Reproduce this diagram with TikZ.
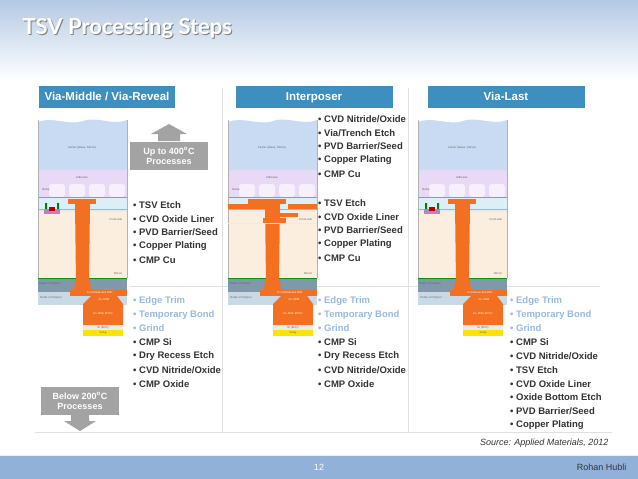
\documentclass[tikz,border=0pt]{standalone}
\usepackage{fontspec}
\setmainfont{Liberation Sans}
\newfontfamily\titlefont{Lato}
\begin{document}
\definecolor{hdr}{HTML}{3D8FC0}
\definecolor{sky}{HTML}{B4C9E2}
\definecolor{carrier}{HTML}{C9DBF2}
\definecolor{adh}{HTML}{E8DAF6}
\definecolor{beol}{HTML}{DDEFF6}
\definecolor{si}{HTML}{FBEEDF}
\definecolor{cu}{HTML}{F36F21}
\definecolor{oxd}{HTML}{7F98AA}
\definecolor{oxl}{HTML}{C9D9E5}
\definecolor{lb}{HTML}{9BB9E0}
\definecolor{dk}{HTML}{333333}
\definecolor{gbox}{HTML}{A3A3A3}
\definecolor{foot}{HTML}{92B1D9}
\begin{tikzpicture}[x=1pt,y=-1pt,
  hd/.style={fill=hdr,minimum width=157pt,minimum height=22pt,text height=8.5pt,text depth=2.5pt,text=white,font=\bfseries\fontsize{11.5}{12}\selectfont,inner sep=0pt},
  bl/.style={anchor=west,font=\bfseries\fontsize{9.5}{10}\selectfont,text=dk,inner sep=0pt},
  bb/.style={bl,text=lb},
  tiny/.style={font=\fontsize{2.8}{3}\selectfont,text=black!60,inner sep=0pt},
  gb/.style={fill=gbox,text=white,font=\bfseries\fontsize{9}{10}\selectfont,align=center,minimum width=78pt,minimum height=28pt,inner sep=0pt}]
\useasboundingbox (0,0) rectangle (638,479);
% background
\shade[top color=sky,bottom color=white] (0,0) rectangle (638,80);
\fill[white] (0,80) rectangle (638,455);
\fill[foot] (0,455) rectangle (638,479);
\draw[white!80!foot,line width=1pt] (0,455) -- (638,455);
\node[anchor=west,font=\titlefont\bfseries\fontsize{22}{24}\selectfont,text=black!50] (ts) at (20,29.5) {TSV Processing Steps};
\node[anchor=west,font=\titlefont\bfseries\fontsize{22}{24}\selectfont,text=white] (t) at (19,28) {TSV Processing Steps};
% headers
\node[hd,minimum width=136pt] (h1) at (107,97) {Via-Middle / Via-Reveal};
\node[hd] (h2) at (314,97) {Interposer};
\node[hd] (h3) at (506,97) {Via-Last};
% separators
\draw[black!12] (222,88) -- (222,432) (408,88) -- (408,432);
\draw[black!12] (35,432) -- (612,432) (130,286) -- (600,286);
% stack diagram
\newcommand{\stk}[1]{%
\begin{scope}[shift={(#1,0)}]
\fill[carrier] (0,122) .. controls (15,116) and (30,126) .. (45,121) .. controls (60,116) and (75,126) .. (89,120) -- (89,170) -- (0,170) -- cycle;
\fill[adh] (0,170) rectangle (89,197);
\foreach \bx in {20,40,60,80}{\fill[white,opacity=.6,rounded corners=3pt] (\bx-9,184) rectangle (\bx+7,197);}
\fill[beol] (0,197) rectangle (89,212);
\draw[black!40,line width=.3pt] (0,197) -- (89,197);
\draw[hdr!60,line width=.8pt] (0,209) -- (89,209);
\fill[si] (0,212) rectangle (89,278);
\draw[black!30,line width=.3pt] (0,120) -- (0,278) (89,120) -- (89,278);
\fill[green!60!black] (0,277.5) rectangle (89,279);
\fill[oxd] (0,279) rectangle (89,292);
\fill[oxl] (0,292) rectangle (89,305);
\fill[cu] (30,199) rectangle (58,204);
\fill[cu] (37,204) -- (52,204) -- (51,283) -- (38,283) -- cycle;
\fill[cu] (37,282) -- (52,282) -- (53,290) -- (36,290) -- cycle;
\fill[cu] (32,290) rectangle (89,296);
\fill[cu] (53,296) -- (79,296) -- (85,304) -- (85,325) -- (45,325) -- (45,304) -- cycle;
\fill[black!8] (45,325) rectangle (85,330);
\fill[yellow!85!orange] (45,330) rectangle (85,336);
\node[tiny] (c#1) at (44,148) {Carrier (Glass, Silicon)};
\node[tiny] (a#1) at (44,177) {Adhesive};
\node[tiny] (b#1) at (8,190) {Bump};
\node[tiny] (f#1) at (78,219) {Front-side};
\node[tiny] (s#1) at (80,273) {Silicon};
\node[tiny] (o#1) at (12,284) {Oxide or Polymer};
\node[tiny] (p#1) at (13,298) {Oxide or Polymer};
\node[tiny,text=white] (r#1) at (62,293) {Cu Damascene RDL};
\node[tiny,text=white] (u#1) at (66,300) {Cu UBM};
\node[tiny,text=white] (q#1) at (65,314) {Cu Pillar (ECD)};
\node[tiny] (n#1) at (65,327.5) {Ni (ECD)};
\node[tiny] (g#1) at (65,333) {SnAg};
\end{scope}}
\stk{38}
\stk{418}
\stk{228}
% device in stacks 1 and 3
\foreach \d in {38,418}{
 \fill[violet!50] (\d+6,209) rectangle (\d+22,214);
 \fill[red!70!black] (\d+11,207) rectangle (\d+17,211);
 \fill[green!50!black] (\d+7,203) rectangle (\d+9,209) (\d+19,203) rectangle (\d+21,209);
}
% interposer extra interconnect
\fill[cu] (228+20,199) rectangle (228+55,204);
\fill[cu] (228,204) rectangle (228+40,209);
\fill[cu] (228+60,204) rectangle (228+89,209);
\fill[cu] (228+45,213) rectangle (228+70,217);
\fill[cu] (228+35,218) rectangle (228+58,223);
\fill[beol] (228,223) rectangle (317,224);
% gray boxes
\node[gb] (up) at (169,156) {Up to 400\textsuperscript{o}C\\Processes};
\fill[gbox] (158,141) -- (158,134) -- (151,134) -- (169,124) -- (187,134) -- (180,134) -- (180,141) -- cycle;
\node[gb] (down) at (80,401) {Below 200\textsuperscript{o}C\\Processes};
\fill[gbox] (71,415) -- (71,421) -- (64,421) -- (80,431) -- (96,421) -- (89,421) -- (89,415) -- cycle;
% bullets col 1
\foreach \t [count=\i from 0] in {TSV Etch,CVD Oxide Liner,PVD Barrier/Seed,Copper Plating,CMP Cu}
  \node[bl] (a\i) at (133,205+13.8*\i) {\textbullet\ \t};
\foreach \t [count=\i from 0] in {Edge Trim,Temporary Bond,Grind}
  \node[bb] (b\i) at (133,301+13.8*\i) {\textbullet\ \t};
\foreach \t [count=\i from 3] in {CMP Si,Dry Recess Etch,CVD Nitride/Oxide,CMP Oxide}
  \node[bl] (b\i) at (133,301+13.8*\i) {\textbullet\ \t};
% col 2
\foreach \t [count=\i from 0] in {CVD Nitride/Oxide,Via/Trench Etch,PVD Barrier/Seed,Copper Plating,CMP Cu}
  \node[bl] (c\i) at (318,119+13.8*\i) {\textbullet\ \t};
\foreach \t [count=\i from 0] in {TSV Etch,CVD Oxide Liner,PVD Barrier/Seed,Copper Plating,CMP Cu}
  \node[bl] (d\i) at (318,203+13.8*\i) {\textbullet\ \t};
\foreach \t [count=\i from 0] in {Edge Trim,Temporary Bond,Grind}
  \node[bb] (e\i) at (318,301+13.8*\i) {\textbullet\ \t};
\foreach \t [count=\i from 3] in {CMP Si,Dry Recess Etch,CVD Nitride/Oxide,CMP Oxide}
  \node[bl] (e\i) at (318,301+13.8*\i) {\textbullet\ \t};
% col 3
\foreach \t [count=\i from 0] in {Edge Trim,Temporary Bond,Grind}
  \node[bb] (f\i) at (510,301+13.8*\i) {\textbullet\ \t};
\foreach \t [count=\i from 3] in {CMP Si,CVD Nitride/Oxide,TSV Etch,CVD Oxide Liner,Oxide Bottom Etch,PVD Barrier/Seed,Copper Plating}
  \node[bl] (f\i) at (510,301+13.8*\i) {\textbullet\ \t};
% footer
\node[anchor=east,font=\itshape\fontsize{9}{10}\selectfont,text=dk] (src) at (612,443) {Source: Applied Materials, 2012};
\node[font=\fontsize{9}{10}\selectfont,text=white] (pg) at (319,467) {12};
\node[anchor=east,font=\fontsize{9}{10}\selectfont,text=dk] (au) at (630,467) {Rohan Hubli};
\end{tikzpicture}
\end{document}
